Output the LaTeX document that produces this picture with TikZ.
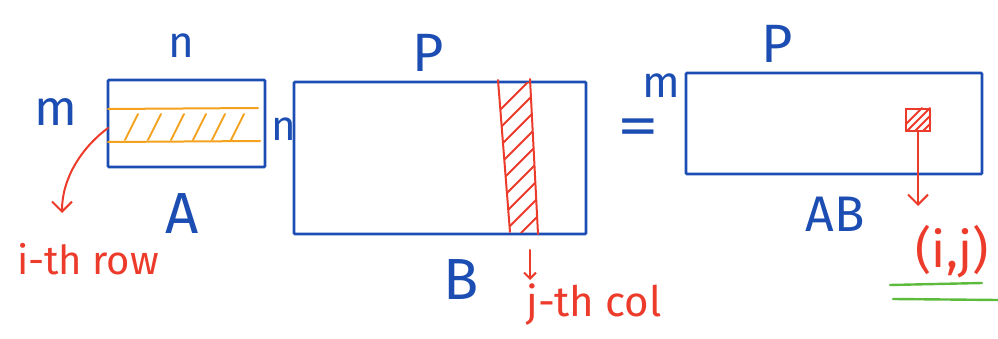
\documentclass[tikz,border=0pt]{standalone}
\usepackage{fontspec}
\usepackage{graphicx}
\setmainfont{Fira Sans}
\usetikzlibrary{arrows.meta}
\definecolor{penblue}{HTML}{1C4DB3}
\definecolor{penred}{HTML}{EC3B2A}
\definecolor{penorange}{HTML}{F4A21E}
\definecolor{pengreen}{HTML}{5CBA3C}
\tikzset{
  mat/.style={draw=penblue, line width=2.6pt, inner sep=0pt, rounded corners=1pt},
  bluelbl/.style={text=penblue, inner sep=0pt},
  redlbl/.style={text=penred, inner sep=0pt},
  redpen/.style={draw=penred, line width=2pt, line cap=round},
  orangepen/.style={draw=penorange, line width=2pt, line cap=round},
  greenpen/.style={draw=pengreen, line width=2.4pt, line cap=round},
  barb/.style={-{Straight Barb[length=10pt,width=20pt,line width=2pt]}},
}
\newcommand{\fs}[1]{\fontsize{#1}{#1}\selectfont}
\begin{document}
\begin{tikzpicture}[x=1pt,y=-1pt]
\useasboundingbox (0,0) rectangle (998,339);
% ---- matrix A ----
\node[mat, minimum width=157pt, minimum height=87pt] (A) at (186.5,123.5) {};
\draw[orangepen] (108,109) -- (258,108);
\draw[orangepen] (108,142) -- (260,141);
\foreach \x in {125,148,171,193,212,231} \draw[orangepen] (\x,140) -- (\x+13,114);
\node[bluelbl] (nA) at (181,46) {\fs{44}n};
\node[bluelbl] (mA) at (56,112) {\fs{50}m};
\node[bluelbl] (labA) at (182,214) {\fs{58}A};
\coordinate (rowstart) at (108,128);
\coordinate (rowend) at (62,213);
\draw[redpen, barb] (rowstart) .. controls (85,145) and (62,175) .. (rowend);
\node[redlbl] (rowlbl) at (88,259) {\fs{40}i-th row};
% ---- matrix B ----
\node[bluelbl] (nB) at (284,129) {\fs{42}n};
\node[mat, minimum width=292pt, minimum height=152pt] (B) at (440,158) {};
\draw[redpen] (498,80) -- (510,232);
\draw[redpen] (530,79) -- (538,234);
\begin{scope}
  \clip (498,83) -- (530,82) -- (538,234) -- (510,232) -- cycle;
  \foreach \y in {100,118,136,154,172,190,208,226,244} \draw[redpen] (500,\y+10) -- (540,\y-30);
\end{scope}
\node[bluelbl] (pB) at (428,53) {\fs{54}P};
\node[bluelbl] (labB) at (461,280) {\fs{58}B};
\coordinate (colstart) at (530,250);
\coordinate (colend) at (530,280);
\draw[redpen, -{Straight Barb[length=6pt,width=12pt,line width=2pt]}] (colstart) -- (colend);
\node[redlbl] (collbl) at (594,305) {\fs{42}j-th col};
% ---- equals ----
\node[bluelbl] (eq) at (638,132) {\fs{52}\scalebox{1.6}[1.1]{=}};
% ---- matrix AB ----
\node[mat, minimum width=296pt, minimum height=101pt] (AB) at (834,123.5) {};
\node[bluelbl] (mAB) at (661,86) {\fs{44}m};
\node[bluelbl] (pAB) at (777,44) {\fs{54}P};
\node[bluelbl] (labAB) at (835,214) {\fs{50}AB};
\node[draw=penred, line width=2pt, minimum width=24pt, minimum height=22pt, inner sep=0pt] (cell) at (918,120) {};
\begin{scope}
  \clip (cell.south west) rectangle (cell.north east);
  \foreach \d in {-8,0,8,16} \draw[redpen] (906+\d,132) -- (930+\d,108);
\end{scope}
\coordinate (cellend) at (918,206);
\draw[redpen, barb] (cell.south) -- (cellend);
\node[redlbl] (ijlbl) at (952,252) {\fs{50}(i,j)};
\coordinate (g1a) at (890,285);
\coordinate (g1b) at (982,283);
\coordinate (g2a) at (893,299);
\coordinate (g2b) at (998,300);
\draw[greenpen] (g1a) -- (g1b);
\draw[greenpen] (g2a) -- (g2b);
\end{tikzpicture}
\end{document}
